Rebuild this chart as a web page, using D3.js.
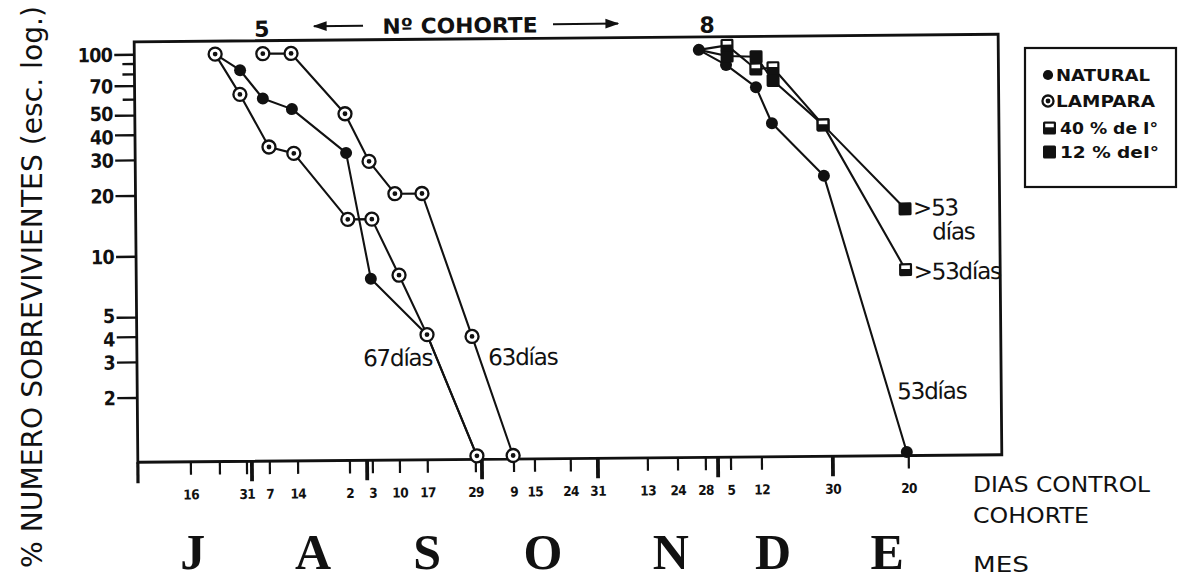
<!DOCTYPE html>
<html>
<head>
<meta charset="utf-8">
<script src="https://cdn.jsdelivr.net/npm/d3@7"></script>
<style>
  body { margin: 0; background: #fff; }
  svg { display: block; }
  text { fill: #111; }
</style>
</head>
<body>
<svg id="chart" width="1182" height="579"></svg>
<script>
// ---- Axis data: days counted from 1 July -------------------------------
const tickDays   = [14.9, 22.5, 29.6, 35.6, 43, 56.6, 62.6, 69.7, 77, 89.6, 99.6, 105.1, 114.5, 121.6, 134.7, 142.6, 149.9, 156.5, 164.6, 183.2, 203.1];
const tickLabels = ["16", "", "31", "7", "14", "2", "3", "10", "17", "29", "9", "15", "24", "31", "13", "24", "28", "5", "12", "30", "20"];
const monthEdgeDays   = [30.9, 61.1, 91.2, 121.6, 153.1, 183.2];
const monthLetters    = ["J", "A", "S", "O", "N", "D", "E"];
const monthLetterDays = [15.9, 47.4, 77.3, 107.7, 141.2, 168, 197.9];
const yTickValues      = [100, 70, 50, 40, 30, 20, 10, 5, 4, 3, 2];
const yMinorTickValues = [90, 80, 60];

// ---- Cohort 5 ------------------------------------------------------------
const natural5Days    = [22.2, 28.7, 34.6, 42.2, 56.3, 62.5, 77.1, 89.9];
const natural5Values  = [100, 83, 60, 53, 32, 7.6, 4.0, 1];
const lamparaA5Days   = [22.2, 28.6, 36.1, 42.6, 56.6, 62.9, 69.9, 77.1, 89.9];
const lamparaA5Values = [100, 63, 34.5, 32, 15, 15, 7.9, 4.0, 1];
const lamparaB5Days   = [34.7, 42.1, 56.1, 62.3, 69.0, 76.1, 88.9, 99.4];
const lamparaB5Values = [100, 100, 50, 29, 20, 20, 3.9, 1];

// ---- Cohort 8 (the shaded treatments start from the natural first count) --
const natural8Days   = [149, 156.1, 163.9, 168, 181.5, 202.6];
const natural8Values = [100, 84, 65, 43, 23.5, 1];
const pct40Days      = [156.4, 163.9, 168.4, 181.4, 202.7];
const pct40Values    = [105, 80, 81, 42, 8];
const pct12Days      = [156.4, 164, 168.4, 181.4, 202.7];
const pct12Values    = [93, 92, 70, 42, 16];

const cohortLabels    = ["5", "8"];
const cohortLabelDays = [34.5, 151.2];

const legendLabels = ["NATURAL", "LAMPARA", "40 % de I°", "12 % deI°"];
const legendKinds  = ["natural", "lampara", "pct40", "pct12"];

// ---- Layout -------------------------------------------------------------
const plot = { left: 136, right: 1000, top: 38, bottom: 458.5 };
const SANS = "'DejaVu Sans', sans-serif";
const COND = "'DejaVu Sans Condensed', 'DejaVu Sans', sans-serif";

const x = d3.scaleLinear().domain([1, 227.5]).range([plot.left, plot.right]);
const y = d3.scaleLog().domain([1, 100]).range([455, 51]);

const zip = (days, values) => days.map((d, i) => ({ day: d, value: values[i] }));
const natural5  = zip(natural5Days, natural5Values);
const lamparaA5 = zip(lamparaA5Days, lamparaA5Values);
const lamparaB5 = zip(lamparaB5Days, lamparaB5Values);
const natural8  = zip(natural8Days, natural8Values);
const pct40     = zip(pct40Days, pct40Values);
const pct12     = zip(pct12Days, pct12Values);

const svg = d3.select("#chart");

// the drawn sheet sits slightly turned
const g = svg.append("g").attr("transform", "rotate(-0.5, 570, 250)");

// frame
g.append("path")
  .attr("d", `M${plot.left},${plot.top}H${plot.right}V${plot.bottom}H${plot.left}Z`)
  .attr("fill", "none").attr("stroke", "#111").attr("stroke-width", 2.8);
g.append("line")
  .attr("x1", plot.left).attr("x2", plot.left)
  .attr("y1", plot.bottom).attr("y2", plot.bottom + 21)
  .attr("stroke", "#111").attr("stroke-width", 3.2);

// x axis: sampling days
g.append("g").selectAll("line").data(tickDays).join("line")
  .attr("x1", d => x(d)).attr("x2", d => x(d))
  .attr("y1", plot.bottom).attr("y2", plot.bottom + 13)
  .attr("stroke", "#111").attr("stroke-width", 2.2);
g.append("g").selectAll("line").data(monthEdgeDays).join("line")
  .attr("x1", d => x(d)).attr("x2", d => x(d))
  .attr("y1", plot.bottom).attr("y2", plot.bottom + 20)
  .attr("stroke", "#111").attr("stroke-width", 3.8);
g.append("g").selectAll("text").data(tickDays).join("text")
  .attr("x", d => x(d)).attr("y", 496)
  .attr("text-anchor", "middle")
  .attr("font-family", COND).attr("font-weight", 600).attr("font-size", 13.5)
  .attr("letter-spacing", -0.6)
  .text((d, i) => tickLabels[i]);

// y axis: log scale (crowded labels are spread a little off their ticks)
const yLabelNudge = { 50: -2, 40: 2, 5: -2, 4: 2 };
g.append("g").selectAll("line").data(yTickValues).join("line")
  .attr("x1", plot.left - 20).attr("x2", plot.left)
  .attr("y1", d => y(d)).attr("y2", d => y(d))
  .attr("stroke", "#111").attr("stroke-width", 2.4);
g.append("g").selectAll("line").data(yMinorTickValues).join("line")
  .attr("x1", plot.left - 12).attr("x2", plot.left)
  .attr("y1", d => y(d)).attr("y2", d => y(d))
  .attr("stroke", "#111").attr("stroke-width", 2.4);
g.append("g").selectAll("text").data(yTickValues).join("text")
  .attr("x", plot.left - 22).attr("y", d => y(d) + (yLabelNudge[d] || 0))
  .attr("dy", "0.36em").attr("text-anchor", "end")
  .attr("font-family", COND).attr("font-weight", 600).attr("font-size", 19.5)
  .attr("letter-spacing", -0.7)
  .text(d => d);

// cohort header
g.append("g").selectAll("text").data(cohortLabels).join("text")
  .attr("x", (d, i) => x(cohortLabelDays[i])).attr("y", 34)
  .attr("text-anchor", "middle")
  .attr("font-family", SANS).attr("font-weight", 600).attr("font-size", 22)
  .text(d => d);
const defs = svg.append("defs");
defs.append("marker").attr("id", "head")
  .attr("viewBox", "0 0 10 10").attr("refX", 9).attr("refY", 5)
  .attr("markerWidth", 7).attr("markerHeight", 7).attr("orient", "auto")
  .append("path").attr("d", "M0,1.5L10,5L0,8.5Z").attr("fill", "#111");
g.append("line").attr("x1", 365).attr("x2", 316).attr("y1", 24).attr("y2", 24)
  .attr("stroke", "#111").attr("stroke-width", 2).attr("marker-end", "url(#head)");
g.append("line").attr("x1", 555).attr("x2", 620).attr("y1", 24).attr("y2", 24)
  .attr("stroke", "#111").attr("stroke-width", 2).attr("marker-end", "url(#head)");
g.append("text").attr("x", 462).attr("y", 32)
  .attr("text-anchor", "middle")
  .attr("font-family", SANS).attr("font-weight", 600).attr("font-size", 21)
  .attr("textLength", 155).attr("lengthAdjust", "spacingAndGlyphs")
  .text("Nº COHORTE");

// survival curves
const line = d3.line().x(d => x(d.day)).y(d => y(d.value));
const curves = [natural5, lamparaA5, lamparaB5, natural8,
                [natural8[0], ...pct40], [natural8[0], ...pct12]];
g.append("g").selectAll("path").data(curves).join("path")
  .attr("d", line).attr("fill", "none")
  .attr("stroke", "#111").attr("stroke-width", 2.1).attr("stroke-linejoin", "round");

// markers
function drawMarker(sel, kind, scale) {
  const s = scale || 1;
  if (kind === "natural") {
    sel.append("circle").attr("r", 6 * s).attr("fill", "#111");
  } else if (kind === "lampara") {
    sel.append("circle").attr("r", 6.5 * s).attr("fill", "#fff")
      .attr("stroke", "#111").attr("stroke-width", 2.3);
    sel.append("circle").attr("r", 2.4).attr("fill", "#111");
  } else if (kind === "pct12") {
    sel.append("rect").attr("x", -6.5).attr("y", -6.5).attr("width", 13).attr("height", 13)
      .attr("rx", 1.5).attr("fill", "#111");
  } else {
    sel.append("rect").attr("x", -6.5).attr("y", -6.5).attr("width", 13).attr("height", 13)
      .attr("rx", 1.5).attr("fill", "#111");
    sel.append("rect").attr("x", -4.3).attr("y", -4.3).attr("width", 8.6).attr("height", 3.6)
      .attr("fill", "#fff");
  }
}
function markers(data, kind) {
  g.append("g").selectAll("g").data(data).join("g")
    .attr("transform", d => `translate(${x(d.day)},${y(d.value)})`)
    .each(function () { drawMarker(d3.select(this), kind); });
}
markers(natural5, "natural");
markers(natural8, "natural");
markers(pct12, "pct12");
markers(pct40, "pct40");
markers(lamparaA5, "lampara");
markers(lamparaB5, "lampara");

// duration notes
function note(px, py, str, anchor) {
  g.append("text").attr("x", px).attr("y", py)
    .attr("text-anchor", anchor || "start")
    .attr("font-family", SANS).attr("font-size", 23)
    .attr("letter-spacing", -1.2)
    .text(str);
}
const a8 = lamparaA5[7], b7 = lamparaB5[6], n8End = natural8[natural8.length - 1];
const p12End = pct12[pct12.length - 1], p40End = pct40[pct40.length - 1];
note(x(a8.day) + 5, y(a8.value) + 31, "67días", "end");
note(x(b7.day) + 16, y(b7.value) + 29, "63días");
note(x(n8End.day) - 9, y(n8End.value) - 53, "53días");
note(x(p12End.day) + 8, y(p12End.value) + 7, ">53");
note(x(p12End.day) + 27, y(p12End.value) + 31, "días");
note(x(p40End.day) + 8, y(p40End.value) + 10, ">53días");

// ---- Unturned parts: month row, axis captions, legend, y title ---------
svg.append("g").selectAll("text").data(monthLetters).join("text")
  .attr("x", (d, i) => x(monthLetterDays[i])).attr("y", 569)
  .attr("text-anchor", "middle")
  .attr("font-family", "'Liberation Serif', serif").attr("font-weight", "bold")
  .attr("font-size", 50)
  .text(d => d);

const caption = svg.append("g").attr("font-family", SANS).attr("font-size", 22);
caption.append("text").attr("x", 973).attr("y", 492)
  .attr("textLength", 177).attr("lengthAdjust", "spacingAndGlyphs").text("DIAS CONTROL");
caption.append("text").attr("x", 973).attr("y", 523)
  .attr("textLength", 116).attr("lengthAdjust", "spacingAndGlyphs").text("COHORTE");
caption.append("text").attr("x", 973).attr("y", 572)
  .attr("textLength", 56).attr("lengthAdjust", "spacingAndGlyphs").text("MES");

svg.append("text")
  .attr("transform", "translate(42,287) rotate(-90)")
  .attr("text-anchor", "middle")
  .attr("font-family", SANS).attr("font-size", 28)
  .attr("textLength", 562).attr("lengthAdjust", "spacingAndGlyphs")
  .text("% NUMERO SOBREVIVIENTES (esc. log.)");

// legend
const legend = svg.append("g").attr("transform", "translate(1025,48)");
legend.append("rect").attr("width", 151).attr("height", 139)
  .attr("fill", "#fff").attr("stroke", "#111").attr("stroke-width", 2.2);
const legendTextX   = [31, 31, 35, 35];
const legendTextLen = [94, 99, 98, 99];
const legendMarkX   = [23, 23, 24.5, 24.5];
const rows = legend.selectAll("g.row").data(legendLabels).join("g")
  .attr("class", "row")
  .attr("transform", (d, i) => `translate(0,${[27, 53, 80, 104][i]})`);
rows.each(function (d, i) {
  const r = d3.select(this);
  const m = r.append("g").attr("transform", `translate(${legendMarkX[i]},0)`);
  drawMarker(m, legendKinds[i], 0.85);
  r.append("text").attr("x", legendTextX[i]).attr("y", 0).attr("dy", "0.37em")
    .attr("font-family", SANS).attr("font-weight", "bold").attr("font-size", 15)
    .attr("textLength", legendTextLen[i]).attr("lengthAdjust", "spacingAndGlyphs")
    .text(d);
});
</script>
</body>
</html>
